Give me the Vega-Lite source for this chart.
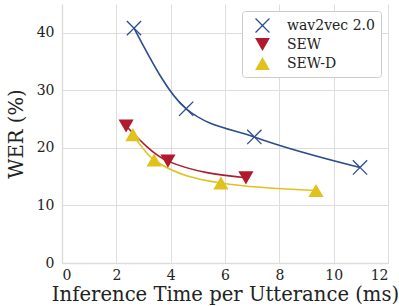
{
  "$schema": "https://vega.github.io/schema/vega-lite/v6.json",
  "width": 326,
  "height": 259,
  "autosize": {"type": "none"},
  "padding": {"left": 62, "top": 4, "right": 11, "bottom": 43},
  "background": "white",
  "config": {
    "font": "DejaVu Serif",
    "view": {"stroke": null},
    "axis": {
      "gridColor": "#dddddd",
      "gridWidth": 1,
      "domainColor": "#dddddd",
      "domainWidth": 1.5,
      "ticks": false,
      "labelFont": "DejaVu Serif",
      "labelFontSize": 14,
      "labelColor": "#222222",
      "titleFont": "DejaVu Serif",
      "titleFontSize": 19.6,
      "titleFontWeight": "normal",
      "titleColor": "#222222"
    },
    "legend": {
      "labelFont": "DejaVu Serif",
      "labelFontSize": 14,
      "labelColor": "#222222"
    }
  },
  "data": {
    "values": [
      {"model": "wav2vec 2.0", "time": 2.65, "wer": 40.8},
      {"model": "wav2vec 2.0", "time": 4.57, "wer": 26.8},
      {"model": "wav2vec 2.0", "time": 7.08, "wer": 21.9},
      {"model": "wav2vec 2.0", "time": 10.97, "wer": 16.6},
      {"model": "SEW", "time": 2.36, "wer": 23.8},
      {"model": "SEW", "time": 3.9, "wer": 17.7},
      {"model": "SEW", "time": 6.77, "wer": 14.8},
      {"model": "SEW-D", "time": 2.61, "wer": 22.3},
      {"model": "SEW-D", "time": 3.39, "wer": 17.9},
      {"model": "SEW-D", "time": 5.85, "wer": 13.9},
      {"model": "SEW-D", "time": 9.35, "wer": 12.6}
    ]
  },
  "encoding": {
    "x": {
      "field": "time", "type": "quantitative",
      "scale": {"domain": [0, 12], "nice": false},
      "axis": {"values": [0, 2, 4, 6, 8, 10, 12], "title": "Inference Time per Utterance (ms)", "titlePadding": 3, "labelPadding": 5}
    },
    "y": {
      "field": "wer", "type": "quantitative",
      "scale": {"domain": [0, 45], "nice": false},
      "axis": {"values": [0, 10, 20, 30, 40], "title": "WER (%)", "titlePadding": 10, "labelPadding": 8}
    }
  },
  "layer": [
    {
      "mark": {"type": "line", "interpolate": "monotone", "strokeWidth": 1.6},
      "encoding": {
        "color": {
          "field": "model", "type": "nominal",
          "scale": {"domain": ["wav2vec 2.0", "SEW", "SEW-D"], "range": ["#2a4d8c", "#b01a2c", "#e1c21d"]},
          "legend": null
        },
        "order": {"field": "time", "type": "quantitative"}
      }
    },
    {
      "mark": {"type": "point", "filled": true, "opacity": 1, "size": 230},
      "encoding": {
        "color": {
          "field": "model", "type": "nominal",
          "scale": {"domain": ["wav2vec 2.0", "SEW", "SEW-D"], "range": ["#2a4d8c", "#b01a2c", "#e1c21d"]},
          "legend": {
            "title": null,
            "orient": "top-right",
            "offset": 7,
            "strokeColor": "#cccccc",
            "fillColor": "white",
            "cornerRadius": 3,
            "padding": 6,
            "symbolSize": 220,
            "symbolOpacity": 1,
            "symbolOffset": 6,
            "rowPadding": 3,
            "labelOffset": 16,
            "labelFont": "DejaVu Serif",
            "labelFontSize": 14,
            "encode": {"labels": {"update": {"font": {"value": "DejaVu Serif"}, "fontSize": {"value": 14}}}}
          }
        },
        "shape": {
          "field": "model", "type": "nominal",
          "scale": {"domain": ["wav2vec 2.0", "SEW", "SEW-D"], "range": ["M-1,-0.88L-0.88,-1L0,-0.12L0.88,-1L1,-0.88L0.12,0L1,0.88L0.88,1L0,0.12L-0.88,1L-1,0.88L-0.12,0Z", "triangle-down", "triangle-up"]},
          "legend": {
            "title": null,
            "orient": "top-right",
            "offset": 7,
            "strokeColor": "#cccccc",
            "fillColor": "white",
            "cornerRadius": 3,
            "padding": 6,
            "symbolSize": 220,
            "symbolOpacity": 1,
            "symbolOffset": 6,
            "rowPadding": 3,
            "labelOffset": 16,
            "labelFont": "DejaVu Serif",
            "labelFontSize": 14,
            "encode": {"labels": {"update": {"font": {"value": "DejaVu Serif"}, "fontSize": {"value": 14}}}}
          }
        }
      }
    }
  ],
  "resolve": {"legend": {"color": "independent", "shape": "independent"}}
}
